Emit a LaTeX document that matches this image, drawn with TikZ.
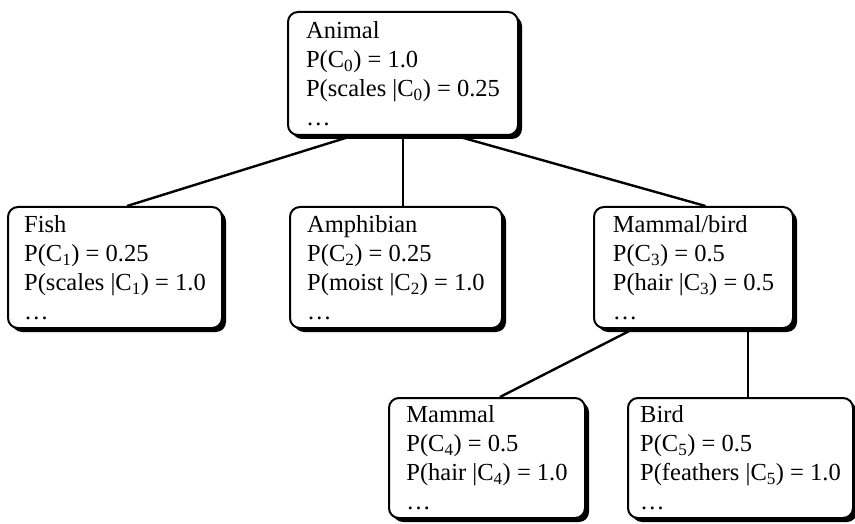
\documentclass[tikz,border=0pt]{standalone}
\usepackage{fontspec}
\setmainfont{Liberation Serif}
\usepackage{tikz}
\usetikzlibrary{calc,backgrounds,shadows}
\tikzset{
  % Class node of the concept hierarchy: rounded box with a hard black shadow.
  cobweb/cls/.style={
    draw=black, fill=white, line width=2pt, rounded corners=10pt,
    align=left, inner sep=0pt, text=black,
    font=\fontsize{24.5}{29}\selectfont,
    drop shadow={shadow xshift=4pt, shadow yshift=-4pt, fill=black, opacity=1}
  },
  % Parent--child link.
  cobweb/link/.style={draw=black, line width=2.4pt},
}
\newcommand{\csub}[1]{\textsubscript{#1}}

\begin{document}
\begin{tikzpicture}[x=1pt,y=-1pt]
  \clip (0,0) rectangle (855,524);

  \node[cobweb/cls, minimum width=230, minimum height=123] (animal) at (403,73.5)
       {Animal\\P(C\csub{0}) = 1.0\\P(scales |C\csub{0}) = 0.25\\\ldots};

  \node[cobweb/cls, minimum width=214, minimum height=121] (fish) at (115,267.5)
       {Fish\\P(C\csub{1}) = 0.25\\P(scales |C\csub{1}) = 1.0\\\ldots};
  \node[cobweb/cls, minimum width=212, minimum height=121] (amph) at (396,267.5)
       {Amphibian\\P(C\csub{2}) = 0.25\\P(moist |C\csub{2}) = 1.0\\\ldots};
  \node[cobweb/cls, minimum width=199, minimum height=121] (mamb) at (693.5,267.5)
       {Mammal/bird\\P(C\csub{3}) = 0.5\\P(hair |C\csub{3}) = 0.5\\\ldots};

  \node[cobweb/cls, minimum width=196, minimum height=120] (mammal) at (487,458)
       {Mammal\\P(C\csub{4}) = 0.5\\P(hair |C\csub{4}) = 1.0\\\ldots};
  \node[cobweb/cls, minimum width=225, minimum height=120] (bird) at (740.5,458)
       {Bird\\P(C\csub{5}) = 0.5\\P(feathers |C\csub{5}) = 1.0\\\ldots};

  % feet of the links on the lower edges of the parents
  \coordinate (afoot1) at ($(animal.south west)!0.28!(animal.south east)$);
  \coordinate (afoot3) at ($(animal.south west)!0.73!(animal.south east)$);
  \coordinate (mfoot1) at ($(mamb.south west)!0.2!(mamb.south east)$);
  \coordinate (mfoot2) at ($(mamb.south west)!0.77!(mamb.south east)$);

  \begin{scope}[on background layer]
    \draw[cobweb/link] (afoot1) -- ($(fish.north)+(12,0)$);
    \draw[cobweb/link] (animal.south) -- (animal.south |- amph.north);
    \draw[cobweb/link] (afoot3) -- ($(mamb.north)+(12,0)$);
    \draw[cobweb/link] (mfoot1) -- ($(mammal.north)+(13,0)$);
    \draw[cobweb/link] (mfoot2) -- (mfoot2 |- bird.north);
  \end{scope}
\end{tikzpicture}
\end{document}
